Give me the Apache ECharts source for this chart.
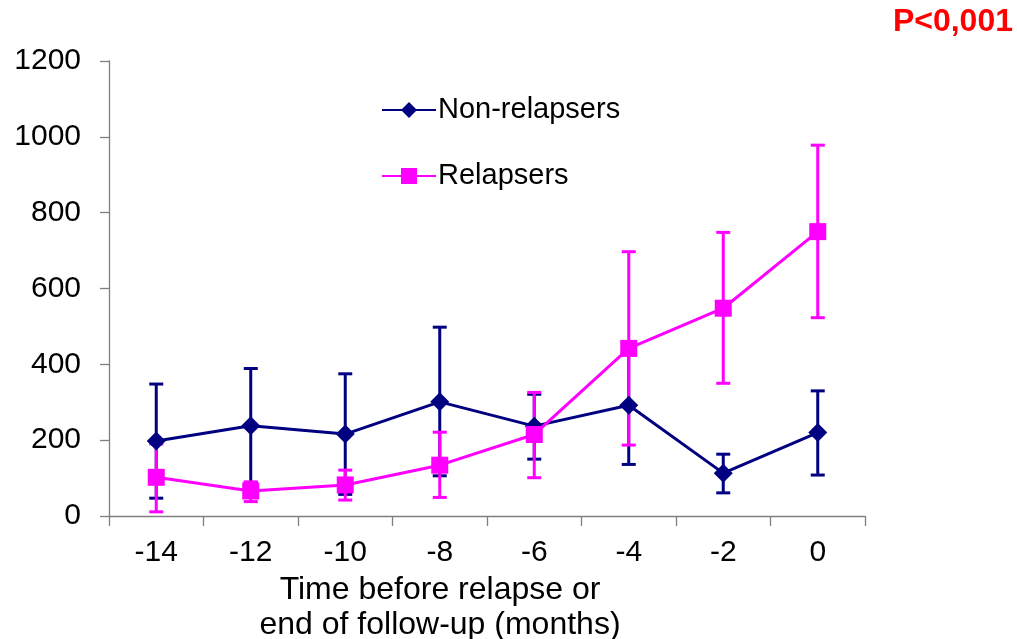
<!DOCTYPE html>
<html>
<head>
<meta charset="utf-8">
<script src="https://cdn.jsdelivr.net/npm/echarts@6/dist/echarts.min.js"></script>
<style>
html,body{margin:0;padding:0;background:#fff;}
#chart{width:1017px;height:639px;}
</style>
</head>
<body>
<div id="chart"></div>
<script>
// Months before relapse / end of follow-up
const months = ['-14', '-12', '-10', '-8', '-6', '-4', '-2', '0'];
const yTicks = [0, 200, 400, 600, 800, 1000, 1200];

// Non-relapsers: mean, lower and upper error limits
const nonRelMean = [198, 238, 216, 301, 237, 292, 113, 220];
const nonRelLow  = [47, 88, 57, 106, 150, 136, 61, 108];
const nonRelHigh = [348, 389, 375, 498, 321, 448, 163, 330];

// Relapsers: mean, lower and upper error limits
const relMean = [102, 66, 82, 134, 215, 442, 548, 750];
const relLow  = [11, 38, 42, 49, 101, 187, 350, 523];
const relHigh = [190, 90, 121, 221, 326, 697, 748, 978];

const NAVY = '#000080';
const MAGENTA = '#FF00FF';
const FONT = 'Liberation Sans, Arial, sans-serif';

function errorData(low, high) {
  return low.map((l, i) => [i, l, high[i]]);
}

// Vertical error bar with caps, drawn through the axes' own scales
function errorSeries(name, low, high, color) {
  return {
    type: 'custom',
    name: name + ' error',
    data: errorData(low, high),
    silent: true,
    z: 1,
    encode: { x: 0, y: [1, 2] },
    renderItem: function (params, api) {
      const x = api.value(0);
      const lo = api.coord([x, api.value(1)]);
      const hi = api.coord([x, api.value(2)]);
      const half = 7;
      const style = { stroke: color, lineWidth: 3 };
      return {
        type: 'group',
        children: [
          { type: 'line', shape: { x1: lo[0], y1: lo[1], x2: hi[0], y2: hi[1] }, style: style },
          { type: 'line', shape: { x1: lo[0] - half, y1: lo[1], x2: lo[0] + half, y2: lo[1] }, style: style },
          { type: 'line', shape: { x1: hi[0] - half, y1: hi[1], x2: hi[0] + half, y2: hi[1] }, style: style }
        ]
      };
    }
  };
}

const chart = echarts.init(document.getElementById('chart'), null, { renderer: 'canvas' });

chart.setOption({
  animation: false,
  backgroundColor: '#ffffff',
  textStyle: { fontFamily: FONT },
  grid: { left: 109, right: 152, top: 61, bottom: 123, containLabel: false, outerBoundsMode: 'none' },
  title: {
    text: 'P<0,001',
    right: 0,
    top: 2,
    padding: 4,
    textStyle: { color: '#FF0000', fontSize: 32, fontWeight: 'bold', fontFamily: FONT }
  },
  legend: {
    orient: 'vertical',
    left: 376,
    top: 90,
    itemGap: 36,
    itemWidth: 54,
    itemHeight: 20,
    data: ['Non-relapsers', 'Relapsers'],
    textStyle: { fontSize: 29, lineHeight: 30, color: '#000', fontFamily: FONT, padding: [0, 0, 0, -3] }
  },
  xAxis: {
    type: 'category',
    data: months,
    boundaryGap: true,
    name: 'Time before relapse or\nend of follow-up (months)',
    nameLocation: 'middle',
    nameGap: 49,
    nameTextStyle: { fontSize: 32, color: '#000', lineHeight: 35, fontFamily: FONT, padding: [0, 94, 0, 0] },
    axisLine: { lineStyle: { color: '#7f7f7f', width: 1.3 } },
    axisTick: { show: true, inside: false, length: 10, lineStyle: { color: '#7f7f7f', width: 1.3 } },
    axisLabel: { fontSize: 30, color: '#000', margin: 22, fontFamily: FONT },
    splitLine: { show: false }
  },
  yAxis: {
    type: 'value',
    min: yTicks[0],
    max: yTicks[yTicks.length - 1],
    interval: 200,
    axisLine: { show: true, lineStyle: { color: '#7f7f7f', width: 1.3 } },
    axisTick: { show: true, inside: false, length: 9, lineStyle: { color: '#7f7f7f', width: 1.3 } },
    axisLabel: { fontSize: 30, color: '#000', margin: 28, fontFamily: FONT, formatter: v => String(v) },
    splitLine: { show: false }
  },
  series: [
    errorSeries('Non-relapsers', nonRelLow, nonRelHigh, NAVY),
    errorSeries('Relapsers', relLow, relHigh, MAGENTA),
    {
      name: 'Non-relapsers',
      type: 'line',
      data: nonRelMean,
      z: 3,
      symbol: 'diamond',
      symbolSize: 19,
      itemStyle: { color: NAVY },
      lineStyle: { color: NAVY, width: 3 }
    },
    {
      name: 'Relapsers',
      type: 'line',
      data: relMean,
      z: 4,
      symbol: 'rect',
      symbolSize: 17,
      itemStyle: { color: MAGENTA },
      lineStyle: { color: MAGENTA, width: 3 }
    }
  ]
});
</script>
</body>
</html>
